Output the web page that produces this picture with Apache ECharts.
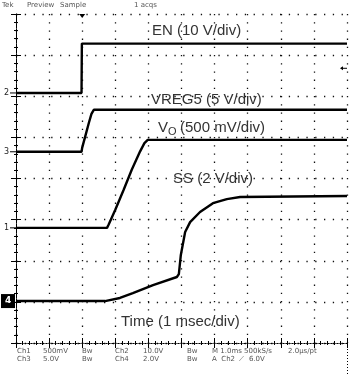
<!DOCTYPE html>
<html><head><meta charset="utf-8">
<script src="https://cdn.jsdelivr.net/npm/echarts@6/dist/echarts.min.js"></script>
<style>html,body{margin:0;padding:0;background:#fff}#c{width:349px;height:376px}</style>
</head><body><div id="c"></div>
<script>
// Channel settings (volts per division, ground marker position in divisions)
const channelNames = ['Ch1', 'Ch2', 'Ch3', 'Ch4'];
const channelVoltsPerDiv = [0.5, 10, 5, 2];
const channelOffsetDiv = [2.80, 6.08, 4.65, 1.02];

// EN (Ch2)
const enTime  = [0, 1.98, 1.99, 10];
const enVolts = [0, 0, 12.0, 12.0];
// VREG5 (Ch3)
const vreg5Time  = [0, 1.98, 2.0, 2.1, 2.2, 2.28, 2.35, 10];
const vreg5Volts = [0, 0, 0.5, 2.0, 3.5, 4.6, 5.1, 5.1];
// VO (Ch1)
const voTime  = [0, 2.75, 2.8, 3.0, 3.25, 3.5, 3.75, 3.88, 3.98, 10];
const voVolts = [0, 0, 0.04, 0.22, 0.46, 0.71, 0.93, 1.03, 1.07, 1.07];
// SS (Ch4)
const ssTime  = [0, 2.69, 3.14, 3.53, 4.14, 4.86, 4.92, 4.98, 5.11, 5.26, 5.56, 5.95, 6.37, 6.77, 10];
const ssVolts = [0, 0, 0.15, 0.39, 0.78, 1.17, 1.31, 2.24, 3.36, 3.84, 4.33, 4.76, 4.96, 5.06, 5.11];

const xMin = 0, xMax = 10, xInterval = 1;
const yMin = 0, yMax = 8, yInterval = 1;

function toDiv(times, volts, ch) {
  return times.map((t, i) => [t, channelOffsetDiv[ch] + volts[i] / channelVoltsPerDiv[ch]]);
}

const chart = echarts.init(document.getElementById('c'), null, {renderer: 'canvas'});

const axisCommon = {
  type: 'value',
  axisLabel: {show: false},
  axisLine: {show: true, lineStyle: {color: '#000', width: 1, type: [1, 2]}},
  axisTick: {show: true, inside: true, length: 5, lineStyle: {color: '#000', width: 1}},
  minorTick: {show: true, splitNumber: 5, length: 2, lineStyle: {color: '#000', width: 1}},
};

function trace(name, data) {
  return {
    name, type: 'line', data, showSymbol: false, symbol: 'none',
    lineStyle: {color: '#000', width: 2.4}, animation: false, z: 5
  };
}

chart.setOption({
  animation: false,
  backgroundColor: '#fff',
  grid: {left: 16, top: 14, width: 331, height: 329},
  xAxis: [
    Object.assign({}, axisCommon, {min: xMin, max: xMax, interval: xInterval, position: 'bottom',
      splitLine: {show: true, lineStyle: {color: '#111', width: 1.3, type: [1.3, 6.9]}}}),
    Object.assign({}, axisCommon, {min: xMin, max: xMax, interval: xInterval, position: 'top',
      splitLine: {show: false}})
  ],
  yAxis: [
    Object.assign({}, axisCommon, {min: yMin, max: yMax, interval: yInterval, position: 'left',
      axisLine: {show: true, lineStyle: {color: '#000', width: 1, type: [4, 1]}},
      splitLine: {show: true, lineStyle: {color: '#111', width: 1.3, type: [1.3, 7.5]}}}),
    Object.assign({}, axisCommon, {min: yMin, max: yMax, interval: yInterval, position: 'right',
      splitLine: {show: false}})
  ],
  series: [
    trace('EN', toDiv(enTime, enVolts, 1)),
    trace('VREG5', toDiv(vreg5Time, vreg5Volts, 2)),
    trace('VO', toDiv(voTime, voVolts, 0)),
    trace('SS', toDiv(ssTime, ssVolts, 3))
  ]
});

const labelFont = '15px "Liberation Sans", Arial, sans-serif';
const labelColor = '#333';
const smallFont = '7px "DejaVu Sans", sans-serif';
const smallColor = '#555';

function txt(text, x, y, font, fill, extra) {
  return Object.assign({type: 'text', x, y, style: {text, font, fill, textVerticalAlign: 'middle'}, z: 10, silent: true}, extra || {});
}

const g = [
  txt('EN (10 V/div)', 152, 31, labelFont, labelColor),
  txt('VREG5 (5 V/div)', 151, 100, labelFont, labelColor),
  txt('V', 158, 128, labelFont, labelColor),
  txt('O', 168, 132, '11px "Liberation Sans", Arial, sans-serif', labelColor),
  txt('(500 mV/div)', 180, 128, labelFont, labelColor),
  txt('SS (2 V/div)', 173, 179, labelFont, labelColor),
  txt('Time (1 msec/div)', 121, 322, labelFont, labelColor),
  // header
  txt('Tek', 2, 5, smallFont, smallColor),
  txt('Preview', 27, 5, smallFont, smallColor),
  txt('Sample', 60, 5, smallFont, smallColor),
  txt('1 acqs', 134, 5, smallFont, smallColor),
  // footer
  txt('Ch1', 17, 351, smallFont, smallColor),
  txt('500mV', 43, 351, smallFont, smallColor),
  txt('Bw', 82, 351, smallFont, smallColor),
  txt('Ch2', 115, 351, smallFont, smallColor),
  txt('10.0V', 143, 351, smallFont, smallColor),
  txt('Bw', 187, 351, smallFont, smallColor),
  txt('M 1.0ms 500kS/s', 212, 351, smallFont, smallColor),
  txt('2.0μs/pt', 288, 351, smallFont, smallColor),
  txt('Ch3', 17, 359, smallFont, smallColor),
  txt('5.0V', 43, 359, smallFont, smallColor),
  txt('Bw', 82, 359, smallFont, smallColor),
  txt('Ch4', 115, 359, smallFont, smallColor),
  txt('2.0V', 143, 359, smallFont, smallColor),
  txt('Bw', 187, 359, smallFont, smallColor),
  txt('A  Ch2  ⟋  6.0V', 212, 359, smallFont, smallColor),
  {type: 'line', shape: {x1: 347.5, y1: 343, x2: 347.5, y2: 376}, style: {stroke: '#000', lineWidth: 1, lineDash: [1, 2]}, silent: true}
];

// channel ground markers, placed through the axis scale
const markerOrder = [1, 2, 0];
markerOrder.forEach(ch => {
  const p = chart.convertToPixel({xAxisIndex: 0, yAxisIndex: 0}, [0, channelOffsetDiv[ch]]);
  g.push(txt(String(ch + 1), 4, p[1], '8px "DejaVu Sans", sans-serif', '#222'));
  g.push({type: 'line', shape: {x1: 10, y1: p[1], x2: 16, y2: p[1]}, style: {stroke: '#000', lineWidth: 1}, silent: true});
});
{
  const p = chart.convertToPixel({xAxisIndex: 0, yAxisIndex: 0}, [0, channelOffsetDiv[3]]);
  g.push({type: 'rect', shape: {x: 1, y: p[1] - 7, width: 14, height: 14}, style: {fill: '#000'}, silent: true, z: 11});
  g.push(txt('4', 5, p[1], 'bold 9px "DejaVu Sans", sans-serif', '#fff', {z: 12}));
}
// trigger position (top) and trigger level (right, Ch2 at 6.0 V)
{
  const tp = chart.convertToPixel({xAxisIndex: 0, yAxisIndex: 0}, [2, 8]);
  g.push({type: 'polygon', shape: {points: [[tp[0] - 3, tp[1]], [tp[0] + 3, tp[1]], [tp[0], tp[1] + 4]]}, style: {fill: '#000'}, silent: true, z: 11});
  const tl = chart.convertToPixel({xAxisIndex: 0, yAxisIndex: 0}, [10, channelOffsetDiv[1] + 6.0 / channelVoltsPerDiv[1]]);
  g.push({type: 'line', shape: {x1: tl[0] - 6, y1: tl[1], x2: tl[0], y2: tl[1]}, style: {stroke: '#000', lineWidth: 1}, silent: true});
  g.push({type: 'polygon', shape: {points: [[tl[0] - 7, tl[1]], [tl[0] - 4, tl[1] - 2], [tl[0] - 4, tl[1] + 2]]}, style: {fill: '#000'}, silent: true});
}
chart.setOption({graphic: g});
</script>
</body></html>
